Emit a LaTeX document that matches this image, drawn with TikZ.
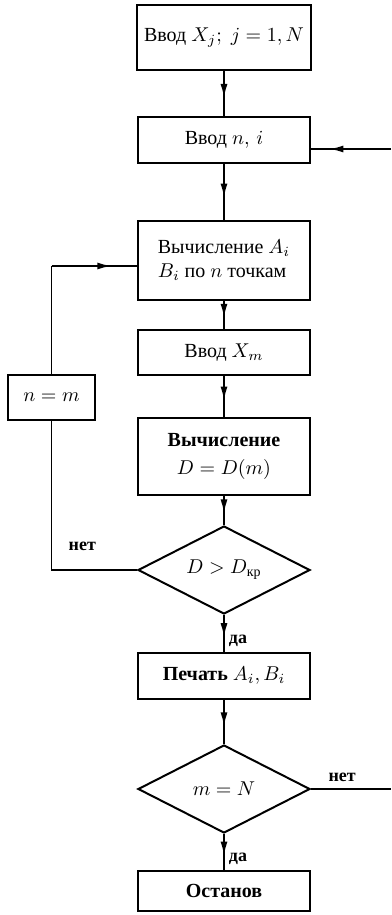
\documentclass[tikz,border=0pt]{standalone}
\usepackage{amsmath}
\usepackage{fontspec}
\setmainfont{Liberation Serif}
\usetikzlibrary{arrows.meta,positioning,shapes.geometric,decorations.markings}

\begin{document}
\begin{tikzpicture}[
  node distance=20pt,
  block/.style={draw,line width=1pt,minimum width=86pt,minimum height=23pt,align=center,font=\normalsize},
  cond/.style={draw,line width=1pt,diamond,aspect=2,minimum width=86pt,minimum height=44pt,inner sep=1pt},
  lbl/.style={font=\small\bfseries,inner sep=2pt},
  line/.style={line width=0.9pt},
  flow/.style={line width=0.9pt,postaction={decorate},decoration={markings,mark=at position #1 with {\arrow{Latex[length=7pt,width=3.5pt]}}}},
  flow/.default=0.6
]
\useasboundingbox (0,0) rectangle (195.5pt,-457.5pt);
\coordinate (rim) at (195.5pt,0);
\node[block,minimum height=32.5pt] (b1) at (112pt,-18.75pt) {Ввод $X_j;\;j=1,N$};
\node[block,below=22.5pt of b1] (b2) {Ввод $n,\,i$};
\node[block,below=28pt of b2,minimum height=39.5pt,align=left] (b3) {Вычисление $A_i$\\$B_i$ по $n$ точкам};
\node[block,below=14pt of b3,minimum height=22.5pt] (b4) {Ввод $X_m$};
\node[block,minimum width=43.5pt,minimum height=22.5pt] (nm) at (25.75pt,-198.75pt) {$n=m$};
\node[block,below=20.5pt of b4,minimum height=38.5pt] (b5) {\textbf{Вычисление}\\[2pt]$D=D(m)$};
\node[cond,below=14.5pt of b5] (d1) {$D>D_{\text{кр}}$};
\node[block,below=18.5pt of d1] (b6) {\textbf{Печать} $A_i,B_i$};
\node[cond,below=22pt of b6] (d2) {$m=N$};
\node[block,below=18pt of d2,minimum height=20pt] (b7) {\textbf{Останов}};
\coordinate (e2) at ([yshift=-4.5pt]b2.east);
\coordinate (r2) at (e2 -| rim);
\coordinate (e3) at ([yshift=-2.75pt]b3.west);
\coordinate (c3) at (nm.north |- e3);
\coordinate (r7) at (d2.east -| rim);
\draw[flow] (b1) -- (b2);
\draw[flow] (b2) -- (b3);
\draw[flow] (b3) -- (b4);
\draw[flow] (b4) -- (b5);
\draw[flow] (b5) -- (d1);
\draw[flow] (d1) -- node[lbl,right,pos=0.7] {да} (b6);
\draw[flow] (b6) -- (d2);
\draw[flow] (d2) -- node[lbl,right,pos=0.7] {да} (b7);
\draw[flow=0.77] (r2) -- (e2);
\draw[line] (d1.west) -| node[lbl,above,pos=0.32,yshift=7pt] {нет} (nm.south);
\draw[line] (nm.north) -- (c3);
\draw[flow=0.7] (c3) -- (e3);
\draw[line] (d2.east) -- node[lbl,above,pos=0.39,yshift=1pt] {нет} (r7);
\end{tikzpicture}
\end{document}
